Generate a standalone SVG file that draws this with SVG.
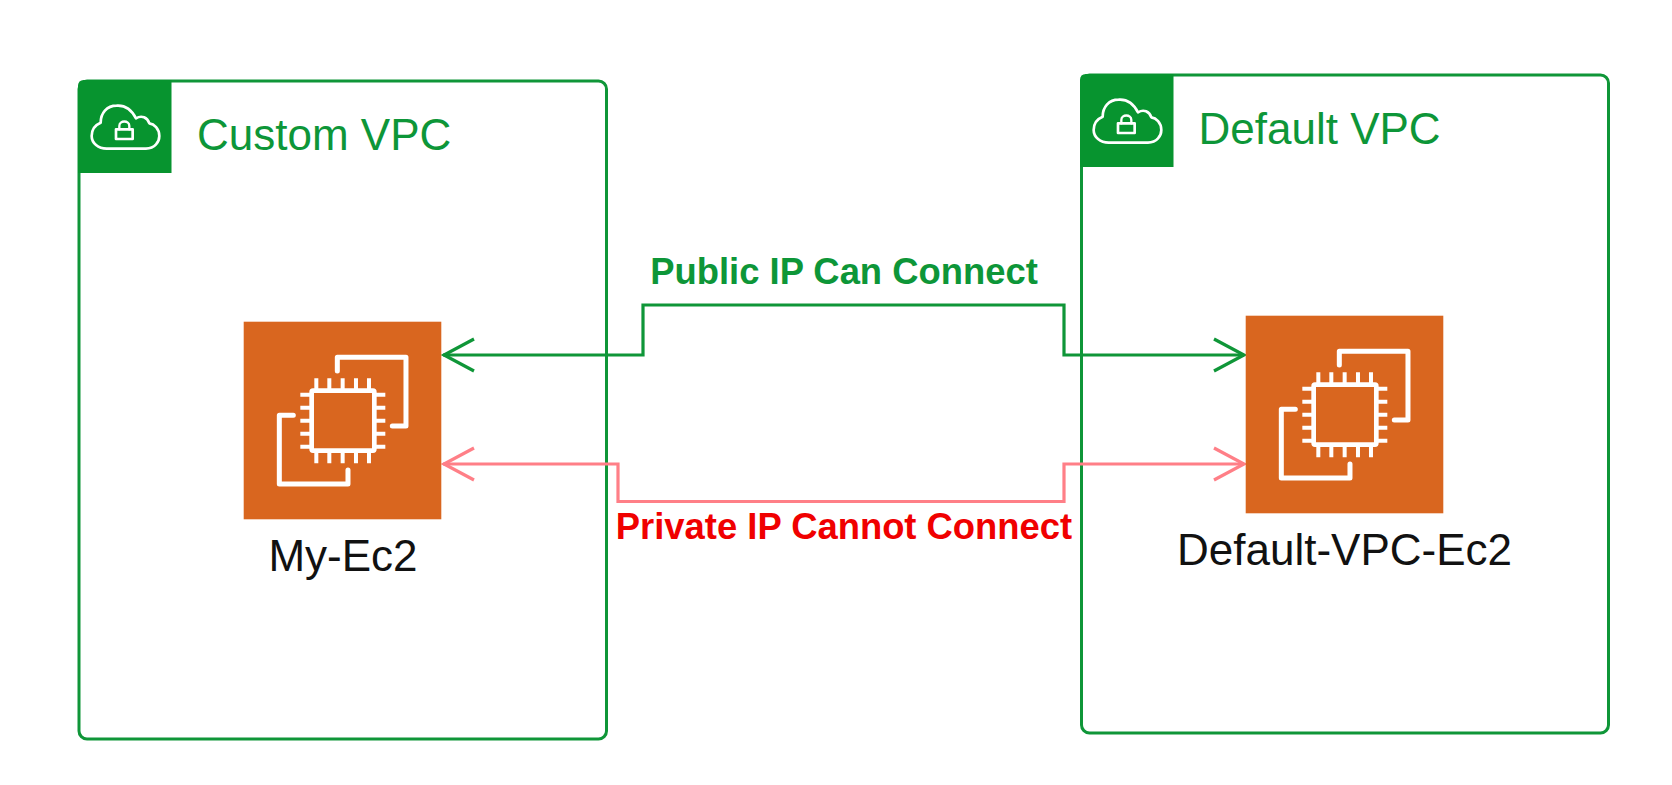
<svg xmlns="http://www.w3.org/2000/svg" xmlns:xlink="http://www.w3.org/1999/xlink" width="1672" height="785" viewBox="0 0 1672 785">
<style>
text{font-family:"Liberation Sans",Arial,sans-serif}
.vpc{fill:#fff;stroke:#0f9638;stroke-width:3}
.tab{fill:#07942f}
.vpct{fill:#0d9638;font-size:44px}
.lbl{fill:#111;font-size:44px;text-anchor:middle}
.edge{fill:#d9661f}
.w{fill:none;stroke:#fff;stroke-linejoin:round;stroke-linecap:round}
.conn{fill:none;stroke-width:3.2}
.g{stroke:#0f9638}
.r{stroke:#ff7f87}
.cl{font-size:36.400px;font-weight:bold;text-anchor:middle}
</style>
<defs>
<g id="cloud">
<path class="w" stroke-width="8" d="M140 266H258C285 266 298 245 298 228C298 205 282 192 268 190C262 172 245 165 228 175C215 150 195 135 170 137C140 137 122 160 122 188C105 195 95 210 95 228C95 250 115 266 140 266Z"/>
<rect class="w" stroke-width="8" x="168" y="208" width="50" height="29"/>
<path class="w" stroke-width="7" d="M178 208V198C178 180 208 180 208 198V208"/>
</g>
<g id="chip">
<path class="w" stroke-width="15" d="M352 213V172H558V378H517M220 346H178V552H384V510"/>
<rect class="w" stroke-width="14" x="275" y="272" width="188" height="180" rx="4"/>
<path class="w" stroke-width="12" stroke-linecap="butt" style="stroke-linecap:butt" d="M289 235V272M328 235V272M368 235V272M408 235V272M447 235V272M289 490V452M328 490V452M368 490V452M408 490V452M447 490V452M241 284H275M241 323H275M241 362H275M241 401H275M241 440H275M463 284H496M463 323H496M463 362H496M463 401H496M463 440H496"/>
</g>
</defs>
<g id="custom-vpc">
<rect class="vpc" x="79" y="81" width="527.5" height="658" rx="8"/>
<path class="tab" d="M78 86Q78 80 84 80H171.500V173H78Z"/>
<use xlink:href="#cloud" href="#cloud" transform="translate(60 60) scale(.3333)"/>
<text class="vpct" x="197" y="150">Custom VPC</text>
</g>
<g id="default-vpc">
<rect class="vpc" x="1081.500" y="75" width="527" height="658" rx="8"/>
<path class="tab" d="M1080 80Q1080 74 1086 74H1173.500V167H1080Z"/>
<use xlink:href="#cloud" href="#cloud" transform="translate(1062 54) scale(.3333)"/>
<text class="vpct" x="1198.500" y="144">Default VPC</text>
</g>
<g id="connectors">
<path class="conn g" d="M443 355H643V305H1064V355H1244"/>
<path class="conn g" d="M474 339L444 355L474 371M1214 339L1244 355L1214 371"/>
<path class="conn r" d="M443 464H618V501.500H1064V464H1244"/>
<path class="conn r" d="M474 448L444 464L474 480M1214 448L1244 464L1214 480"/>
</g>
<g id="my-ec2">
<rect class="edge" x="243.700" y="321.700" width="197.600" height="197.600"/>
<use xlink:href="#chip" href="#chip" transform="translate(220 300) scale(.3333)"/>
<text class="lbl" x="343" y="570.500">My-Ec2</text>
</g>
<g id="default-vpc-ec2">
<rect class="edge" x="1245.700" y="315.700" width="197.600" height="197.600"/>
<use xlink:href="#chip" href="#chip" transform="translate(1222 294) scale(.3333)"/>
<text class="lbl" x="1344.500" y="564.500">Default-VPC-Ec2</text>
</g>
<text class="cl" x="844" y="284" fill="#0d9638">Public IP Can Connect</text>
<text class="cl" x="844" y="539" fill="#f00000">Private IP Cannot Connect</text>
</svg>
